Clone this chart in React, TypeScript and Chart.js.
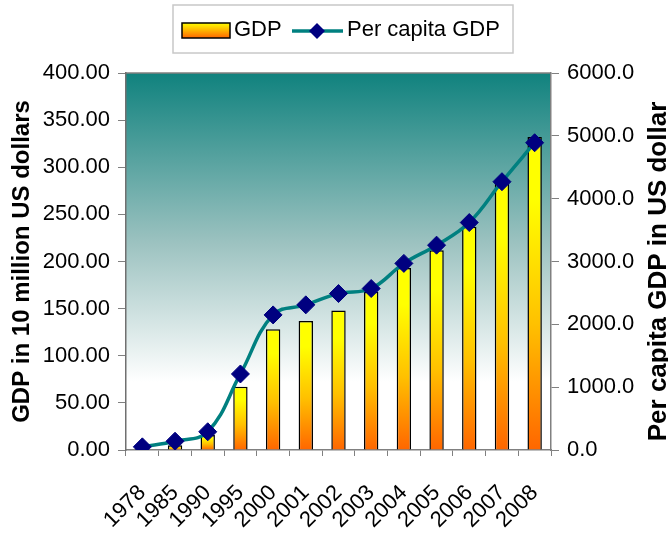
import React, { useEffect, useRef } from "react";
import { Chart, registerables } from "chart.js";

Chart.register(...registerables);

const years = ["1978", "1985", "1990", "1995", "2000", "2001", "2002", "2003", "2004", "2005", "2006", "2007", "2008"];
const gdp = [3.6, 5, 16, 67, 128, 137, 148, 168, 193, 212, 237, 283, 332];
const perCapita = [50, 140, 290, 1210, 2150, 2310, 2490, 2570, 2970, 3260, 3620, 4270, 4890];
const leftTitle = "GDP in 10 million US dollars";
const rightTitle = "Per capita GDP in US dollar";
const legendLabels = ["GDP", "Per capita GDP"];

const FONT = "'Liberation Sans', Arial, sans-serif";

const bgPlugin = {
  id: "bgPlugin",
  beforeDraw(chart: any) {
    const { ctx, chartArea: a } = chart;
    if (!a) return;
    const g = ctx.createLinearGradient(0, a.top, 0, a.bottom);
    g.addColorStop(0, "#10827e");
    g.addColorStop(0.45, "#9cc2c0");
    g.addColorStop(0.82, "#ffffff");
    g.addColorStop(1, "#ffffff");
    ctx.save();
    ctx.fillStyle = g;
    ctx.fillRect(a.left, a.top, a.right - a.left, a.bottom - a.top);
    ctx.strokeStyle = "#808080";
    ctx.lineWidth = 1.5;
    ctx.beginPath();
    ctx.moveTo(a.left, a.top);
    ctx.lineTo(a.right, a.top);
    ctx.stroke();
    ctx.restore();
  },
};

const legendPlugin = {
  id: "customLegend",
  afterDraw(chart: any) {
    const ctx = chart.ctx;
    const a = chart.chartArea;
    ctx.save();
    // box
    ctx.strokeStyle = "#c8c8c8";
    ctx.lineWidth = 1.5;
    ctx.strokeRect(173, 5, 340, 48);
    // swatch
    const g = ctx.createLinearGradient(0, 23, 0, 38);
    g.addColorStop(0, "#ffff00");
    g.addColorStop(1, "#ff6600");
    ctx.fillStyle = g;
    ctx.fillRect(182, 23, 48, 15);
    ctx.strokeStyle = "#000000";
    ctx.lineWidth = 1.5;
    ctx.strokeRect(182, 23, 48, 15);
    ctx.font = `22px ${FONT}`;
    ctx.fillStyle = "#000000";
    ctx.textBaseline = "middle";
    ctx.textAlign = "left";
    ctx.fillText(legendLabels[0], 234, 30);
    // line sample
    ctx.strokeStyle = "#008080";
    ctx.lineWidth = 3.5;
    ctx.beginPath();
    ctx.moveTo(292, 31);
    ctx.lineTo(343, 31);
    ctx.stroke();
    ctx.fillStyle = "#000080";
    ctx.beginPath();
    ctx.moveTo(317, 23);
    ctx.lineTo(325, 31);
    ctx.lineTo(317, 39);
    ctx.lineTo(309, 31);
    ctx.closePath();
    ctx.fill();
    ctx.fillStyle = "#000000";
    ctx.fillText(legendLabels[1], 347, 30);
    // right axis title, reading bottom-to-top
    if (a) {
      ctx.translate(659, (a.top + a.bottom) / 2 + 10);
      ctx.rotate(-Math.PI / 2);
      ctx.font = `bold 26px ${FONT}`;
      ctx.textAlign = "center";
      ctx.textBaseline = "middle";
      ctx.fillText(rightTitle, 0, 0);
    }
    ctx.restore();
  },
};

export default function App() {
  const ref = useRef<HTMLCanvasElement>(null);
  useEffect(() => {
    document.body.style.margin = "0";
    const canvas = ref.current!;
    const chart = new Chart(canvas, {
      type: "bar",
      data: {
        labels: years,
        datasets: [
          {
            type: "line",
            label: legendLabels[1],
            data: perCapita,
            yAxisID: "y1",
            borderColor: "#008080",
            borderWidth: 3.5,
            tension: 0.4,
            pointStyle: "rectRot",
            pointRadius: 9,
            pointBackgroundColor: "#000080",
            pointBorderColor: "#000080",
            pointBorderWidth: 1,
            order: 0,
          } as any,
          {
            type: "bar",
            label: legendLabels[0],
            data: gdp,
            yAxisID: "y",
            borderColor: "#000000",
            borderWidth: 1.5,
            categoryPercentage: 1,
            barPercentage: 0.44,
            order: 1,
            backgroundColor: (c: any) => {
              const chart = c.chart;
              const sc = chart.scales?.y;
              if (!sc || c.raw === undefined) return "#ffcc00";
              const top = sc.getPixelForValue(c.raw);
              const base = sc.getPixelForValue(0);
              if (!isFinite(top) || !isFinite(base) || base - top < 1) return "#ff8800";
              const g = chart.ctx.createLinearGradient(0, top, 0, base);
              g.addColorStop(0, "#ffff00");
              g.addColorStop(0.2, "#ffff00");
              g.addColorStop(0.6, "#ffc000");
              g.addColorStop(1, "#ff6600");
              return g;
            },
          } as any,
        ],
      },
      options: {
        animation: false,
        responsive: false,
        layout: { padding: { top: 73, left: 0, right: 0, bottom: 0 } },
        plugins: { legend: { display: false }, tooltip: { enabled: false } },
        scales: {
          x: {
            afterFit: (s: any) => { s.height = 83; },
            grid: { display: true, drawOnChartArea: false, tickLength: 6, color: "#808080", offset: true },
            border: { color: "#808080", width: 1.5 },
            ticks: { color: "#000000", font: { size: 22, family: FONT }, minRotation: 45, maxRotation: 45, padding: 24, autoSkip: false },
          },
          y: {
            position: "left",
            min: 0,
            max: 400,
            afterFit: (s: any) => { s.width = 126; },
            grid: { display: true, drawOnChartArea: false, tickLength: 8, color: "#808080" },
            border: { color: "#707070", width: 1.5 },
            ticks: { stepSize: 50, color: "#000000", font: { size: 22, family: FONT }, padding: 8, callback: (v: any) => Number(v).toFixed(2) },
            title: { display: true, text: leftTitle, color: "#000000", font: { size: 24, weight: "bold", family: FONT, lineHeight: 1 }, padding: { top: 10, bottom: 0 } },
          },
          y1: {
            position: "right",
            min: 0,
            max: 6000,
            afterFit: (s: any) => { s.width = 117; },
            grid: { display: true, drawOnChartArea: false, tickLength: 8, color: "#808080" },
            border: { color: "#808080", width: 1.5 },
            ticks: { stepSize: 1000, color: "#000000", font: { size: 22, family: FONT }, padding: 8, callback: (v: any) => Number(v).toFixed(1) },
            title: { display: false },
          },
        },
      },
      plugins: [bgPlugin, legendPlugin],
    });
    return () => chart.destroy();
  }, []);
  return (
    <div style={{ position: "fixed", left: 0, top: 0, width: 668, height: 533, background: "#ffffff" }}>
      <canvas ref={ref} width={668} height={533} style={{ display: "block" }} />
    </div>
  );
}
